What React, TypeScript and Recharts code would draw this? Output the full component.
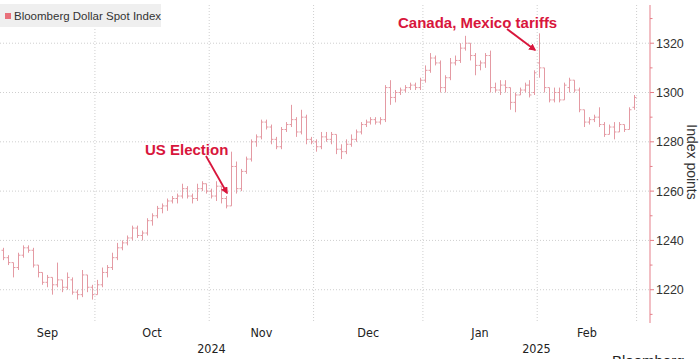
import {
  ComposedChart,
  Bar,
  XAxis,
  YAxis,
  CartesianGrid,
} from "recharts";

// daily bars, Sep 4 2024 -> Feb 28 2025 (weekdays)
const opens = [
  1236, 1233, 1231, 1229, 1234, 1237, 1236, 1230, 1227, 1223, 1225, 1222, 1224, 1221, 1224, 1219, 1218, 1226, 1221,
  1218, 1222, 1227, 1229, 1233, 1237, 1239, 1241, 1245, 1242, 1243, 1248, 1250, 1253, 1254, 1256, 1257, 1258, 1261, 1258, 1257, 1261, 1263,
  1260, 1258, 1262, 1257, 1254, 1270, 1261, 1268, 1273, 1280, 1282, 1288, 1286, 1281, 1278, 1285, 1287, 1289, 1284, 1290, 1281,
  1280, 1278, 1282, 1281, 1283, 1277, 1276, 1279, 1281, 1284, 1287, 1288, 1289, 1288, 1289, 1302, 1298, 1300, 1301, 1302, 1303, 1302,
  1305, 1309, 1314, 1312, 1302, 1306, 1312, 1313, 1318, 1320, 1315, 1311, 1312, 1315, 1302, 1301, 1303, 1302, 1296, 1299, 1301, 1303, 1300,
  1312, 1310, 1302, 1297, 1300, 1297, 1302, 1305, 1301, 1293, 1288, 1289, 1290, 1287, 1283, 1286, 1284, 1287, 1285, 1294,
];
const highs = [
  1237, 1234, 1231, 1235, 1238, 1238, 1237, 1230, 1227, 1226, 1225, 1231, 1224, 1227, 1225, 1220, 1228, 1226, 1222,
  1224, 1229, 1230, 1235, 1239, 1240, 1242, 1246, 1246, 1244, 1249, 1251, 1254, 1255, 1257, 1258, 1259, 1263, 1262, 1259, 1263, 1264, 1263,
  1261, 1264, 1262, 1258, 1276, 1272, 1269, 1274, 1281, 1283, 1289, 1289, 1287, 1282, 1286, 1288, 1295, 1290, 1293, 1291, 1282,
  1281, 1284, 1284, 1284, 1283, 1279, 1281, 1283, 1285, 1288, 1289, 1290, 1290, 1290, 1303, 1305, 1301, 1302, 1303, 1304, 1304, 1306,
  1311, 1316, 1315, 1313, 1307, 1314, 1315, 1320, 1323, 1320, 1316, 1313, 1316, 1317, 1304, 1305, 1305, 1302, 1300, 1302, 1304, 1305, 1309,
  1324, 1310, 1302, 1302, 1302, 1304, 1306, 1305, 1302, 1293, 1290, 1291, 1294, 1288, 1287, 1288, 1288, 1287, 1294, 1299,
];
const lows = [
  1232, 1230, 1225, 1228, 1233, 1235, 1229, 1225, 1222, 1221, 1218, 1221, 1219, 1220, 1218, 1216, 1217, 1219, 1216,
  1218, 1221, 1225, 1228, 1232, 1236, 1238, 1240, 1241, 1240, 1242, 1246, 1249, 1251, 1252, 1255, 1255, 1257, 1257, 1255, 1256, 1260, 1259,
  1257, 1256, 1255, 1253, 1254, 1259, 1260, 1267, 1272, 1278, 1281, 1285, 1279, 1277, 1277, 1284, 1286, 1282, 1283, 1279, 1279,
  1276, 1277, 1280, 1279, 1275, 1273, 1275, 1278, 1280, 1283, 1286, 1287, 1287, 1287, 1288, 1295, 1296, 1299, 1300, 1301, 1301, 1301,
  1304, 1308, 1311, 1300, 1300, 1305, 1311, 1312, 1317, 1313, 1307, 1309, 1310, 1300, 1300, 1299, 1300, 1293, 1292, 1299, 1300, 1298, 1299,
  1306, 1300, 1296, 1296, 1296, 1297, 1300, 1300, 1292, 1286, 1287, 1288, 1286, 1282, 1283, 1281, 1284, 1284, 1285, 1293,
];
const closes = [
  1233, 1231, 1229, 1234, 1237, 1236, 1230, 1227, 1223, 1225, 1222, 1224, 1221, 1225, 1219, 1218, 1226, 1221, 1218,
  1222, 1227, 1229, 1233, 1237, 1239, 1241, 1245, 1242, 1243, 1248, 1250, 1253, 1254, 1256, 1257, 1258, 1261, 1258, 1257, 1261, 1263, 1260,
  1258, 1262, 1257, 1254, 1270, 1261, 1268, 1273, 1280, 1282, 1288, 1286, 1281, 1278, 1285, 1287, 1289, 1284, 1290, 1281, 1280,
  1278, 1282, 1281, 1283, 1277, 1276, 1279, 1281, 1284, 1287, 1288, 1289, 1288, 1289, 1302, 1298, 1300, 1301, 1302, 1303, 1302, 1305,
  1309, 1314, 1312, 1302, 1306, 1312, 1313, 1318, 1320, 1315, 1311, 1312, 1315, 1302, 1301, 1303, 1302, 1296, 1299, 1301, 1303, 1299, 1308,
  1310, 1302, 1297, 1300, 1297, 1303, 1305, 1301, 1293, 1288, 1289, 1290, 1287, 1283, 1286, 1284, 1287, 1285, 1293, 1298,
];

const months = ["Sep", "Oct", "Nov", "Dec", "Jan", "Feb"];
const monthDays = [19, 23, 21, 22, 23, 20];
const years = ["2024", "2025"];
const yearMonths = [4, 2];
const yTicks = [1210, 1220, 1230, 1240, 1250, 1260, 1270, 1280, 1290, 1300, 1310, 1320, 1330];
const yGrid = [1220, 1240, 1260, 1280, 1300, 1320];

const X_MIN = -0.6;
const X_MAX = 130.2;
const BAR = "#e49aa3";
const RED = "#d8163c";
const FONT = "'Liberation Sans', Arial, sans-serif";

const data = closes.map((c, i) => ({
  i,
  range: [lows[i], highs[i]],
  open: opens[i],
  close: c,
}));

// month boundaries (between trading days)
const bounds: number[] = [];
let acc = 0;
monthDays.forEach((d) => {
  acc += d;
  bounds.push(acc - 0.5);
});
const monthMids = bounds.map((b, k) => ((k === 0 ? X_MIN : bounds[k - 1]) + b) / 2);
const yearBounds: number[] = [];
let mAcc = 0;
yearMonths.forEach((m) => {
  mAcc += m;
  yearBounds.push(bounds[mAcc - 1]);
});
const yearMids = yearBounds.map((b, k) =>
  k === 0 ? (X_MIN + b) / 2 : (yearBounds[k - 1] + X_MAX) / 2
);

const OhlcBar = (props: any) => {
  const { x, y, width, height, payload } = props;
  if (x == null || y == null) return <g />;
  const cx = Math.round(x + width / 2) + 0.5;
  const top = Math.min(y, y + height);
  const span = Math.abs(height);
  const [lo, hi] = payload.range;
  const toY = (v: number) => (hi === lo ? top : top + ((hi - v) / (hi - lo)) * span);
  return (
    <g stroke={BAR} strokeWidth={1}>
      <line x1={cx} x2={cx} y1={top} y2={top + span} />
      <line x1={cx - 2} x2={cx} y1={toY(payload.open)} y2={toY(payload.open)} />
      <line x1={cx} x2={cx + 2} y1={toY(payload.close)} y2={toY(payload.close)} />
    </g>
  );
};

const YTick = (props: any) => {
  const { x, y, payload } = props;
  const major = payload.value % 20 === 0;
  return (
    <g>
      <line x1={x} x2={x + (major ? 4 : 2.5)} y1={y} y2={y} stroke="#e57f89" />
      {major && (
        <text x={x + 6} y={y + 4.5} fontSize={12.5} fill="#333" fontFamily={FONT}>
          {payload.value}
        </text>
      )}
    </g>
  );
};

const MonthTick = (props: any) => {
  const { x, y, index } = props;
  return (
    <text x={x} y={y + 14} textAnchor="middle" fontSize={12.5} fill="#222"
      fontFamily="'Liberation Sans Narrow', 'DejaVu Sans Condensed', sans-serif">
      {months[index]}
    </text>
  );
};

const YearTick = (props: any) => {
  const { x, y, index } = props;
  return (
    <text x={x} y={y + 13} textAnchor="middle" fontSize={12.5} fill="#222"
      fontFamily="'Liberation Sans Narrow', 'DejaVu Sans Condensed', sans-serif">
      {years[index]}
    </text>
  );
};

export default function App() {
  return (
    <div style={{ position: "absolute", left: 0, top: 0, width: 700, height: 359, background: "#fff", overflow: "hidden" }}>
      <ComposedChart
        width={700}
        height={359}
        data={data}
        margin={{ top: 5, right: 0, bottom: 0, left: 0 }}
      >
        <CartesianGrid
          stroke="#cfcfcf"
          strokeDasharray="1 2"
          horizontalValues={yGrid}
          verticalValues={bounds}
        />
        <XAxis
          dataKey="i"
          type="number"
          domain={[X_MIN, X_MAX]}
          ticks={monthMids}
          interval={0}
          height={17}
          axisLine={false}
          tickLine={false}
          tickSize={0}
          tickMargin={0}
          tick={<MonthTick />}
          allowDataOverflow
        />
        <XAxis
          xAxisId="year"
          dataKey="i"
          type="number"
          domain={[X_MIN, X_MAX]}
          ticks={yearMids}
          interval={0}
          height={19}
          axisLine={false}
          tickLine={false}
          tickSize={0}
          tickMargin={0}
          tick={<YearTick />}
          allowDataOverflow
        />
        <YAxis
          orientation="right"
          width={50}
          domain={[1206.5, 1335.5]}
          ticks={yTicks}
          interval={0}
          axisLine={{ stroke: "#e57f89" }}
          tickLine={false}
          tickSize={0}
          tickMargin={0}
          tick={<YTick />}
          allowDataOverflow
        />
        <Bar dataKey="range" barSize={5} shape={OhlcBar} isAnimationActive={false} />
      </ComposedChart>

      <svg width={700} height={359} style={{ position: "absolute", left: 0, top: 0, pointerEvents: "none" }}>
        <defs>
          <marker id="ah" viewBox="0 0 10 10" refX="8" refY="5" markerWidth="4" markerHeight="4" orient="auto">
            <path d="M0,0 L10,5 L0,10 z" fill={RED} />
          </marker>
        </defs>
        {/* legend */}
        <rect x={0} y={4} width={161} height={23} fill="#efefef" />
        <rect x={5} y={13} width={6} height={6} fill="#e8707a" />
        <text x={14} y={20} fontSize={11.5} fill="#333" fontFamily={FONT}>
          Bloomberg Dollar Spot Index
        </text>

        {/* annotations */}
        <text x={145} y={155} fontSize={15} fontWeight="bold" fill={RED} fontFamily={FONT}>
          US Election
        </text>
        <line x1={206} y1={156} x2={227} y2={193} stroke={RED} strokeWidth={1.8} markerEnd="url(#ah)" />
        <text x={398} y={28} fontSize={15} fontWeight="bold" fill={RED} fontFamily={FONT}>
          Canada, Mexico tariffs
        </text>
        <line x1={507} y1={29} x2={535} y2={50} stroke={RED} strokeWidth={1.8} markerEnd="url(#ah)" />

        {/* right axis title */}
        <text x={687} y={162} fontSize={14} fill="#333" fontFamily={FONT} textAnchor="middle" transform="rotate(90 687 162)">
          Index points
        </text>
        <text x={612} y={366} fontSize={15} fill="#222" fontFamily={FONT}>
          Bloomberg
        </text>
      </svg>
    </div>
  );
}
